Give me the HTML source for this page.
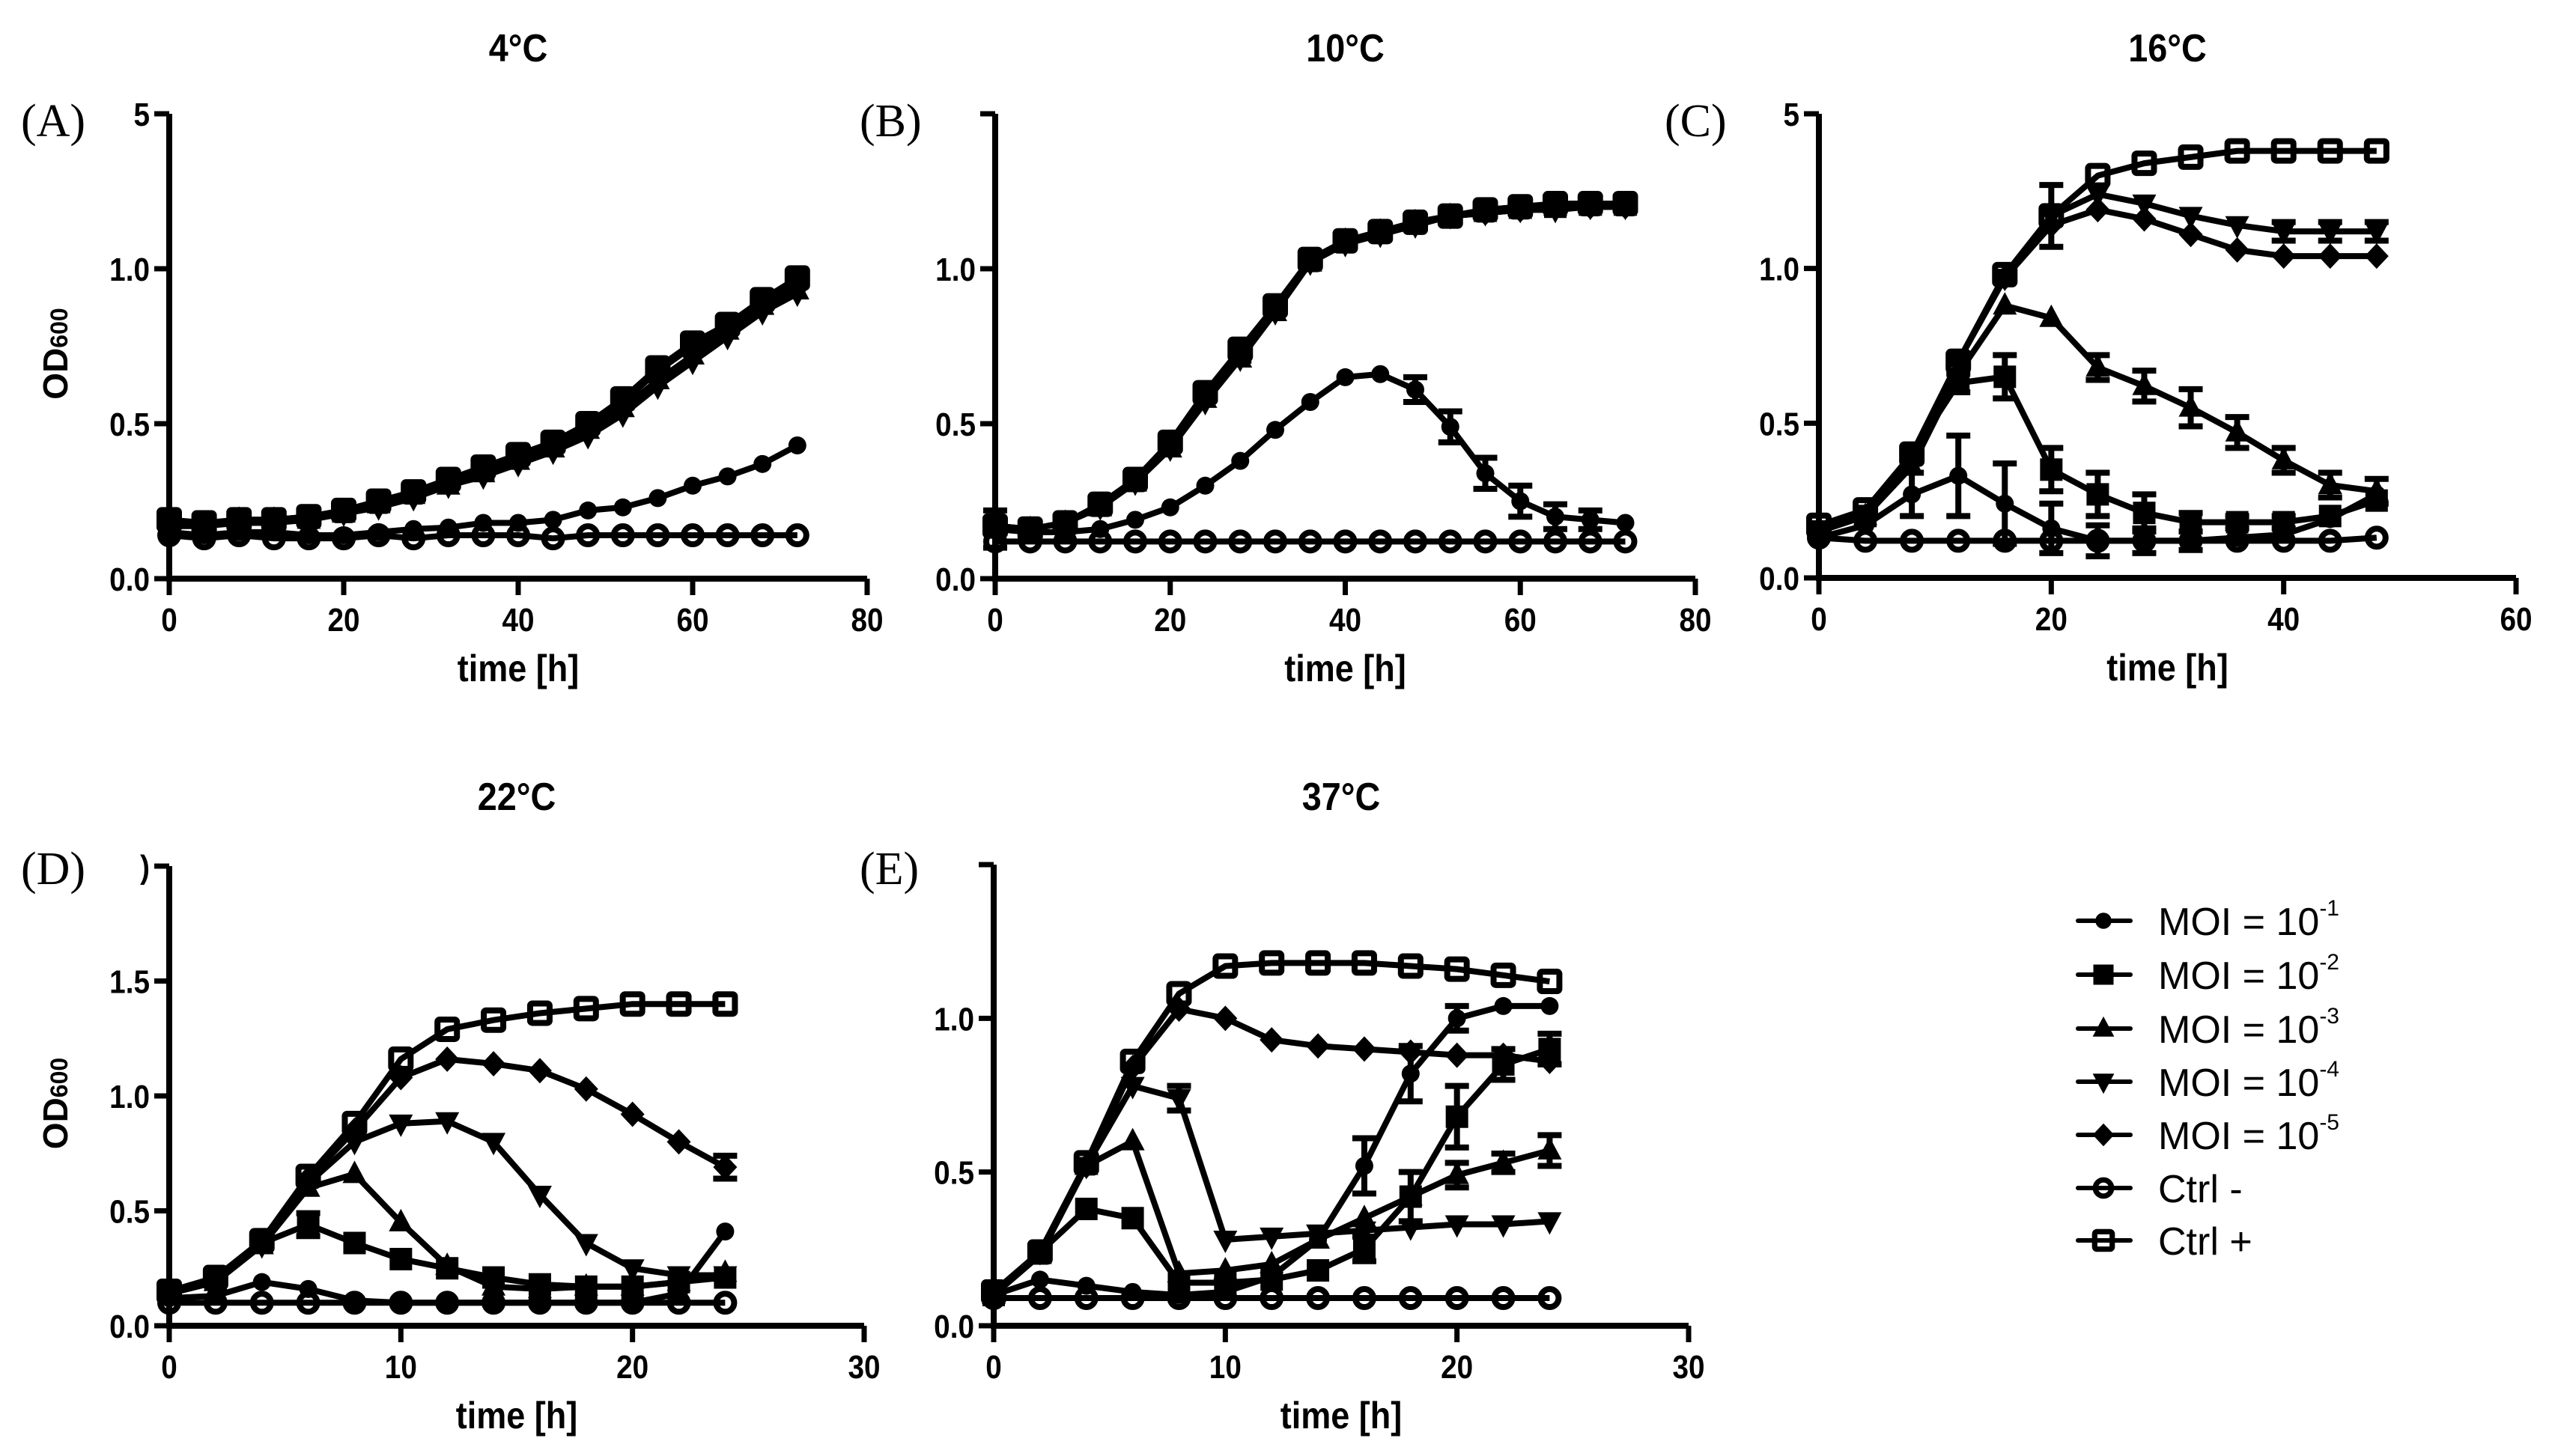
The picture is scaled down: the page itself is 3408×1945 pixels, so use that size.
<!DOCTYPE html>
<html><head><meta charset="utf-8"><style>
html,body{margin:0;padding:0;background:#fff;}
svg{display:block;}
text{font-family:"Liberation Sans",Arial,sans-serif;}
</style></head>
<body>
<svg id="fig" width="3408" height="1945" viewBox="0 0 3408 1945" xmlns="http://www.w3.org/2000/svg"></svg>
<script>
// ---------- DATA ----------
const seriesNames = ["moi-1","moi-2","moi-3","moi-4","moi-5","ctrl-neg","ctrl-pos"];
const legendLabels = ["MOI = 10","MOI = 10","MOI = 10","MOI = 10","MOI = 10","Ctrl -","Ctrl +"];
const legendExps = ["-1","-2","-3","-4","-5","",""];

const timesA = [0,4,8,12,16,20,24,28,32,36,40,44,48,52,56,60,64,68,72];
const a_moi1 = [0.15,0.14,0.15,0.15,0.14,0.14,0.15,0.16,0.165,0.18,0.18,0.19,0.22,0.23,0.26,0.30,0.33,0.37,0.43];
const a_moi2 = [0.18,0.17,0.19,0.19,0.20,0.22,0.25,0.28,0.32,0.35,0.40,0.44,0.50,0.58,0.68,0.76,0.82,0.90,0.97];
const a_moi3 = [0.17,0.17,0.19,0.19,0.19,0.21,0.24,0.27,0.30,0.34,0.38,0.42,0.48,0.55,0.64,0.72,0.80,0.88,0.93];
const a_moi4 = [0.17,0.17,0.18,0.18,0.19,0.21,0.23,0.26,0.30,0.33,0.37,0.41,0.46,0.53,0.62,0.70,0.78,0.86,0.92];
const a_moi5 = [0.17,0.17,0.19,0.19,0.20,0.22,0.25,0.28,0.31,0.35,0.39,0.43,0.49,0.57,0.67,0.75,0.81,0.89,0.95];
const a_ctrlN = [0.14,0.13,0.14,0.13,0.13,0.13,0.14,0.13,0.14,0.14,0.14,0.13,0.14,0.14,0.14,0.14,0.14,0.14,0.14];
const a_ctrlP = [0.19,0.18,0.19,0.19,0.20,0.22,0.25,0.28,0.32,0.36,0.40,0.44,0.50,0.58,0.68,0.76,0.82,0.90,0.97];

const timesB = [0,4,8,12,16,20,24,28,32,36,40,44,48,52,56,60,64,68,72];
const b_moi1 = [0.16,0.15,0.15,0.16,0.19,0.23,0.30,0.38,0.48,0.57,0.65,0.66,0.61,0.49,0.34,0.25,0.20,0.19,0.18];
const b_moi2 = [0.17,0.16,0.18,0.24,0.32,0.44,0.60,0.73,0.88,1.03,1.09,1.12,1.15,1.17,1.19,1.20,1.20,1.21,1.21];
const b_moi3 = [0.17,0.16,0.18,0.23,0.31,0.42,0.58,0.71,0.86,1.02,1.09,1.12,1.15,1.17,1.18,1.19,1.20,1.20,1.20];
const b_moi4 = [0.16,0.16,0.18,0.23,0.31,0.42,0.57,0.71,0.86,1.02,1.08,1.11,1.14,1.17,1.18,1.19,1.19,1.20,1.20];
const b_moi5 = [0.17,0.16,0.18,0.24,0.32,0.43,0.59,0.72,0.87,1.03,1.09,1.12,1.15,1.17,1.18,1.19,1.20,1.20,1.20];
const b_ctrlN = [0.12,0.12,0.12,0.12,0.12,0.12,0.12,0.12,0.12,0.12,0.12,0.12,0.12,0.12,0.12,0.12,0.12,0.12,0.12];
const b_ctrlP = [0.17,0.16,0.18,0.24,0.32,0.44,0.60,0.74,0.88,1.03,1.09,1.12,1.15,1.17,1.19,1.20,1.21,1.21,1.21];
const b_err1 = [0.06,0,0,0,0,0,0,0,0,0,0,0,0.04,0.05,0.05,0.05,0.04,0.03,0];

const timesC = [0,4,8,12,16,20,24,28,32,36,40,44,48];
const c_moi1 = [0.13,0.17,0.27,0.33,0.24,0.16,0.12,0.12,0.12,0.13,0.14,0.19,0.27];
const c_moi2 = [0.15,0.20,0.40,0.63,0.65,0.35,0.27,0.21,0.18,0.18,0.18,0.20,0.25];
const c_moi3 = [0.15,0.20,0.36,0.66,0.88,0.84,0.68,0.62,0.55,0.47,0.38,0.30,0.28];
const c_moi4 = [0.15,0.20,0.38,0.70,0.97,1.17,1.24,1.21,1.17,1.14,1.12,1.12,1.12];
const c_moi5 = [0.15,0.20,0.38,0.70,0.97,1.14,1.19,1.16,1.11,1.06,1.04,1.04,1.04];
const c_ctrlN = [0.13,0.12,0.12,0.12,0.12,0.12,0.12,0.12,0.12,0.12,0.12,0.12,0.13];
const c_ctrlP = [0.17,0.22,0.40,0.70,0.98,1.17,1.30,1.34,1.36,1.38,1.38,1.38,1.38];
const c_err1 = [0,0,0.07,0.13,0.13,0.08,0.05,0.04,0.03,0,0,0,0];
const c_err2 = [0,0,0,0.03,0.07,0.07,0.07,0.06,0.03,0.02,0.02,0,0];
const c_err3 = [0,0,0,0,0,0,0.04,0.05,0.06,0.05,0.04,0.04,0.04];
const c_err4 = [0,0,0,0,0,0.1,0,0,0,0,0.03,0.03,0.03];

const timesD = [0,2,4,6,8,10,12,14,16,18,20,22,24];
const d_moi1 = [0.12,0.13,0.19,0.16,0.11,0.10,0.10,0.10,0.10,0.10,0.10,0.14,0.41];
const d_moi2 = [0.14,0.20,0.36,0.44,0.36,0.29,0.25,0.21,0.18,0.17,0.17,0.19,0.21];
const d_moi3 = [0.14,0.19,0.35,0.60,0.66,0.45,0.26,0.17,0.16,0.17,0.17,0.19,0.23];
const d_moi4 = [0.14,0.20,0.35,0.62,0.80,0.88,0.89,0.80,0.57,0.36,0.25,0.22,0.22];
const d_moi5 = [0.14,0.20,0.36,0.64,0.85,1.08,1.16,1.14,1.11,1.03,0.92,0.80,0.69];
const d_ctrlN = [0.10,0.10,0.10,0.10,0.10,0.10,0.10,0.10,0.10,0.10,0.10,0.10,0.10];
const d_ctrlP = [0.15,0.21,0.37,0.65,0.88,1.16,1.29,1.33,1.36,1.38,1.40,1.40,1.40];
const d_err2 = [0,0,0,0.05,0,0,0,0,0,0,0,0,0];
const d_err5 = [0,0,0,0,0,0,0,0,0,0,0,0,0.05];

const timesE = [0,2,4,6,8,10,12,14,16,18,20,22,24];
const e_moi1 = [0.10,0.15,0.13,0.11,0.10,0.11,0.16,0.28,0.52,0.82,1.00,1.04,1.04];
const e_moi2 = [0.10,0.24,0.38,0.35,0.14,0.14,0.15,0.18,0.25,0.42,0.68,0.85,0.90];
const e_moi3 = [0.10,0.23,0.52,0.60,0.17,0.18,0.20,0.28,0.35,0.42,0.49,0.53,0.57];
const e_moi4 = [0.10,0.24,0.52,0.78,0.74,0.28,0.29,0.30,0.31,0.32,0.33,0.33,0.34];
const e_moi5 = [0.10,0.24,0.52,0.84,1.03,1.00,0.93,0.91,0.90,0.89,0.88,0.88,0.86];
const e_ctrlN = [0.09,0.09,0.09,0.09,0.09,0.09,0.09,0.09,0.09,0.09,0.09,0.09,0.09];
const e_ctrlP = [0.11,0.24,0.53,0.86,1.08,1.17,1.18,1.18,1.18,1.17,1.16,1.14,1.12];
const e_err1 = [0,0,0,0,0,0,0,0,0.09,0.09,0.04,0,0];
const e_err2 = [0,0,0,0,0,0,0,0,0.04,0.08,0.1,0.05,0.05];
const e_err3 = [0,0,0,0,0,0,0,0,0,0,0.04,0.03,0.05];
const e_err4 = [0,0,0,0,0.04,0,0,0,0,0,0,0,0];

const xTicksA = [0,20,40,60,80];
const xTicksD = [0,10,20,30];
const xTicksC = [0,20,40,60];
const yTicksMain = [0,0.5,1.0];
const yTickLabels = ["0.0","0.5","1.0"];
const yTicksD = [0,0.5,1.0,1.5];
const yTickLabelsD = ["0.0","0.5","1.0","1.5"];
const titles = ["4°C","10°C","16°C","22°C","37°C"];
const panelLetters = ["(A)","(B)","(C)","(D)","(E)"];

// ---------- LAYOUT ----------
const NS = "http://www.w3.org/2000/svg";
const svg = document.getElementById("fig");
function el(tag, attrs, parent){
  const e = document.createElementNS(NS, tag);
  for (const k in attrs) e.setAttribute(k, attrs[k]);
  (parent||svg).appendChild(e);
  return e;
}
// condensed bold text helper (scaled horizontally)
function ctext(parent, x, y, size, anchor, str, sx){
  const t = el("text",{x:0,y:0,"font-size":size,"font-weight":"bold","text-anchor":anchor,transform:`translate(${x},${y}) scale(${sx||0.88},1)`},parent);
  t.textContent = str;
  return t;
}

const panels = [
  {key:"a", times:timesA, data:[a_moi1,a_moi2,a_moi3,a_moi4,a_moi5,a_ctrlN,a_ctrlP], errs:[null,null,null,null,null,null,null],
   px0:226, px1:1158, xmax:80, py0:773, pyTop:152, ymax:1.5, xt:xTicksA, yt:yTicksMain, ytl:yTickLabels, topLabel:"5", ylabel:true, lx:28, ly:182},
  {key:"b", times:timesB, data:[b_moi1,b_moi2,b_moi3,b_moi4,b_moi5,b_ctrlN,b_ctrlP], errs:[b_err1,null,null,null,null,null,null],
   px0:1329, px1:2264, xmax:80, py0:773, pyTop:152, ymax:1.5, xt:xTicksA, yt:yTicksMain, ytl:yTickLabels, topLabel:"", ylabel:false, lx:1148, ly:182},
  {key:"c", times:timesC, data:[c_moi1,c_moi2,c_moi3,c_moi4,c_moi5,c_ctrlN,c_ctrlP], errs:[c_err1,c_err2,c_err3,c_err4,null,null,null],
   px0:2429, px1:3360, xmax:60, py0:772, pyTop:152, ymax:1.5, xt:xTicksC, yt:yTicksMain, ytl:yTickLabels, topLabel:"5", ylabel:false, lx:2223, ly:182},
  {key:"d", times:timesD, data:[d_moi1,d_moi2,d_moi3,d_moi4,d_moi5,d_ctrlN,d_ctrlP], errs:[null,d_err2,null,null,d_err5,null,null],
   px0:226, px1:1154, xmax:30, py0:1771, pyTop:1157, ymax:2.0, xt:xTicksD, yt:yTicksD, ytl:yTickLabelsD, topLabel:")", ylabel:true, lx:28, ly:1181},
  {key:"e", times:timesE, data:[e_moi1,e_moi2,e_moi3,e_moi4,e_moi5,e_ctrlN,e_ctrlP], errs:[e_err1,e_err2,e_err3,e_err4,null,null,null],
   px0:1327, px1:2255, xmax:30, py0:1771, pyTop:1155, ymax:1.5, xt:xTicksD, yt:yTicksMain, ytl:yTickLabels, topLabel:"", ylabel:false, lx:1148, ly:1181}
];

function marker(g, type, x, y, s){
  let m;
  if (type===0) m = el("circle",{cx:x,cy:y,r:12*s,fill:"#000"},g);
  else if (type===1) m = el("rect",{x:x-15*s,y:y-15*s,width:30*s,height:30*s,fill:"#000"},g);
  else if (type===2) m = el("polygon",{points:`${x},${y-18*s} ${x+16*s},${y+12*s} ${x-16*s},${y+12*s}`,fill:"#000"},g);
  else if (type===3) m = el("polygon",{points:`${x},${y+18*s} ${x+16*s},${y-12*s} ${x-16*s},${y-12*s}`,fill:"#000"},g);
  else if (type===4) m = el("polygon",{points:`${x},${y-17*s} ${x+16*s},${y} ${x},${y+17*s} ${x-16*s},${y}`,fill:"#000"},g);
  else if (type===5) m = el("circle",{cx:x,cy:y,r:12*s,fill:"none",stroke:"#000","stroke-width":8*s},g);
  else m = el("rect",{x:x-13*s,y:y-13*s,width:26*s,height:26*s,rx:3,fill:"none",stroke:"#000","stroke-width":8*s},g);
  return m;
}

panels.forEach((p, pi) => {
  const g = el("g",{});
  
  
  const X = v => p.px0 + (p.px1 - p.px0) * v / p.xmax;
  const Y = v => p.py0 - (p.py0 - p.pyTop) * v / p.ymax;
  const cx = (p.px0 + p.px1)/2;

  const t = ctext(g, cx, pi>=3 ? 1082 : 82, 52, "middle", titles[pi], 0.9);
  
  

  const lt = el("text",{x:p.lx, y:p.ly, "font-size":62},g);
  lt.style.fontFamily = '"Liberation Serif", serif';
  lt.textContent = panelLetters[pi];
  
  

  const ax = el("path",{d:`M${p.px0},${p.pyTop} L${p.px0},${p.py0} L${p.px1},${p.py0}`,fill:"none",stroke:"#000","stroke-width":8},g);
  
  
  el("line",{x1:p.px0-20,y1:p.pyTop,x2:p.px0,y2:p.pyTop,stroke:"#000","stroke-width":7},g);
  if (p.topLabel){
    const tl = ctext(g, p.px0-26, p.pyTop+16, 44, "end", p.topLabel);
    
    
  }
  p.yt.forEach((v,i) => {
    el("line",{x1:p.px0-20,y1:Y(v),x2:p.px0,y2:Y(v),stroke:"#000","stroke-width":7},g);
    const tx = ctext(g, p.px0-26, Y(v)+16, 44, "end", p.ytl[i]);
    
    
  });
  p.xt.forEach(v => {
    el("line",{x1:X(v),y1:p.py0,x2:X(v),y2:p.py0+22,stroke:"#000","stroke-width":7},g);
    const tx = ctext(g, X(v), p.py0+70, 44, "middle", String(v));
    
    
  });
  const xl = ctext(g, cx, p.py0+137, 50, "middle", "time [h]", 0.9);
  
  
  if (p.ylabel){
    const ycen = (p.py0 + p.pyTop)/2 + 10;
    const yl = el("text",{x:0,y:0,"font-size":46,"font-weight":"bold","text-anchor":"middle",transform:`translate(90,${ycen}) rotate(-90)`},g);
    yl.innerHTML = 'OD<tspan font-size="32">600</tspan>';
    
    
  }

  const order = [6,4,3,2,1,0,5];
  order.forEach(si => {
    const vals = p.data[si];
    const sg = el("g",{},g);
    
    
    const d = vals.map((v,i) => (i?"L":"M") + X(p.times[i]) + "," + Y(v)).join(" ");
    const line = el("path",{d:d,fill:"none",stroke:"#000","stroke-width":8,"stroke-linejoin":"round"},sg);
    
    
    const err = p.errs[si];
    if (err){
      err.forEach((e,i) => {
        if (!e) return;
        const x = X(p.times[i]);
        const y1 = Y(vals[i]+e), y2 = Y(vals[i]-e);
        const eb = el("path",{d:`M${x},${y1} L${x},${y2} M${x-16},${y1} L${x+16},${y1} M${x-16},${y2} L${x+16},${y2}`,stroke:"#000","stroke-width":8,fill:"none"},sg);
        
        
      });
    }
    vals.forEach((v,i) => {
      const m = marker(sg, si, X(p.times[i]), Y(v), 1);
      
      
    });
  });
});

const lg = el("g",{});


const legY = [1230,1302,1374,1445,1516,1587,1657];
legendLabels.forEach((lab,i) => {
  const y = legY[i];
  const eg = el("g",{},lg);
  
  
  el("line",{x1:2775,y1:y,x2:2845,y2:y,stroke:"#000","stroke-width":6,"stroke-linecap":"round"},eg);
  marker(eg, i, 2809, y, 0.9);
  const t = el("text",{x:2882,y:y+19,"font-size":52},eg);
  t.textContent = lab;
  if (legendExps[i]){
    const ts = el("tspan",{"font-size":30,dy:-26},t);
    ts.textContent = legendExps[i];
  }
});
</script>
</body></html>
